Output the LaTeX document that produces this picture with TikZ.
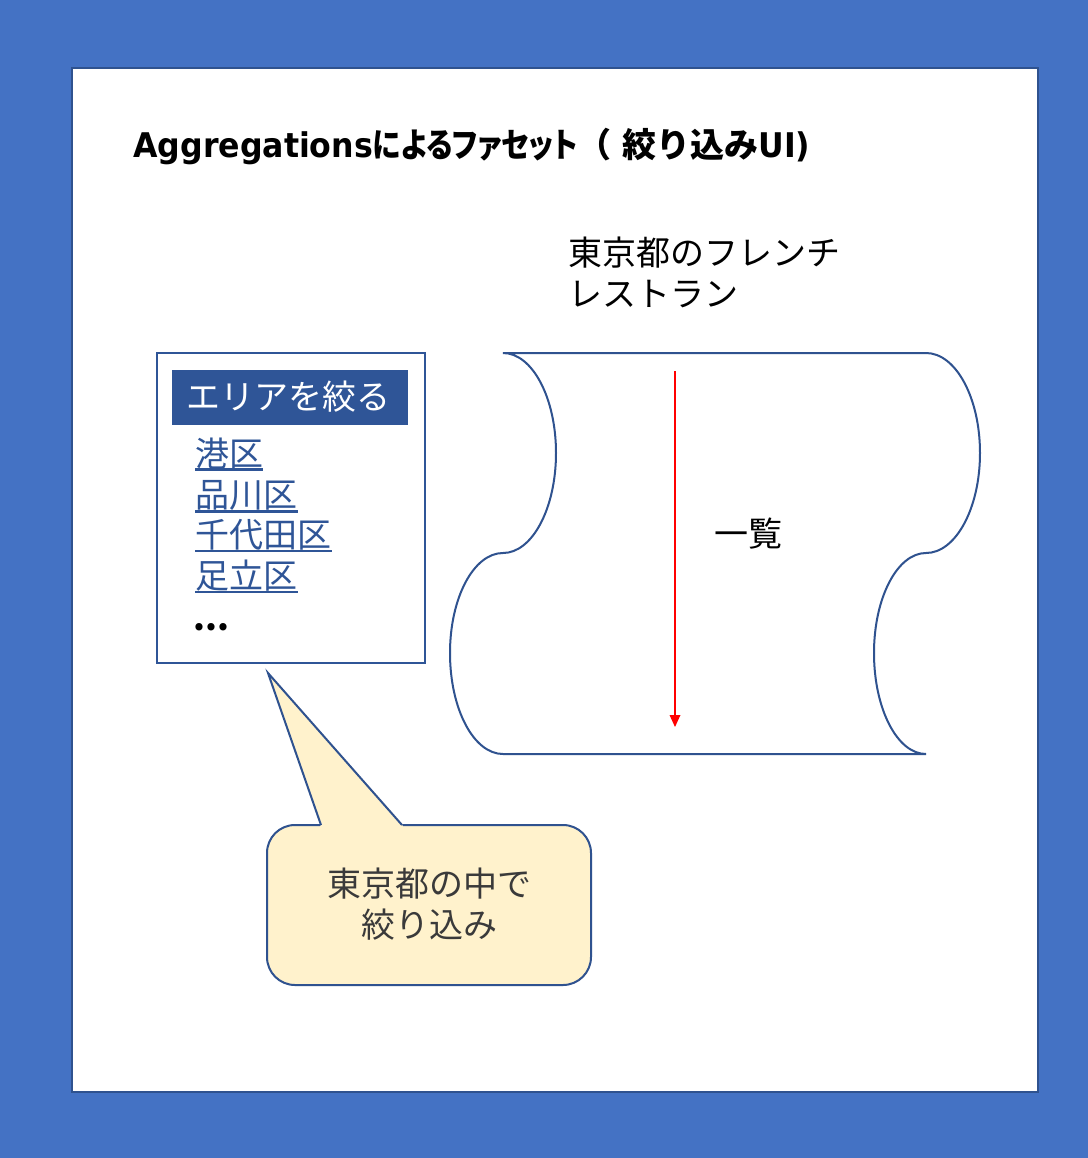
\documentclass[tikz,border=0pt]{standalone}
\usepackage{fontspec}
\setmainfont{Noto Sans CJK JP}
\newfontfamily\jp{Noto Sans CJK JP}
\newfontfamily\jptitle[RawFeature=+palt,FakeStretch=0.85]{Noto Sans CJK JP}
\newfontfamily\titlelatin[FakeStretch=0.93]{DejaVu Sans}
\usetikzlibrary{arrows.meta}
\definecolor{bgblue}{HTML}{4472C4}
\definecolor{edgeblue}{HTML}{2F528F}
\definecolor{headblue}{HTML}{2F5597}
\definecolor{callfill}{HTML}{FFF2CC}
\definecolor{calltext}{HTML}{3A3A3A}
\tikzset{
  jtext/.style={font=\jp\fontsize{25.5pt}{30.75pt}\selectfont, inner sep=0pt},
  linktext/.style={jtext, text=headblue, anchor=base west},
  uline/.style={draw=headblue, line width=2pt},
  edge/.style={draw=edgeblue, line width=1.5pt},
}
\begin{document}
\begin{tikzpicture}[x=0.75pt,y=-0.75pt]
\useasboundingbox (0,0) rectangle (1088,1158);
\fill[bgblue] (0,0) rectangle (1088,1158);
\node (page) [edge, fill=white, minimum width=724.5pt, minimum height=768pt, inner sep=0pt] at (555,580) {};
% title
\node (title) [anchor=base west, inner sep=0pt, font=\fontsize{25.5pt}{30pt}\selectfont\bfseries] at (133,157)
  {{\titlelatin Aggregations}{\jptitle によるファセット}{\jp （}\kern8pt{\jp 絞り込み}{\titlelatin UI)}};
% list heading
\node (head1) [jtext, anchor=base west] at (568,265) {東京都のフレンチ};
\node (head2) [jtext, anchor=base west] at (568,306) {レストラン};
% facet box
\node (facet) [draw=headblue, line width=1.5pt, fill=white, minimum width=201pt, minimum height=232.5pt, inner sep=0pt] at (291,508) {};
\node (hdr) [fill=headblue, minimum width=177pt, minimum height=41.25pt, inner sep=0pt] at (290,397.5) {};
\node (hdrtext) [jtext, text=white, anchor=base] at (288,409) {エリアを絞る};
\node (l1) [linktext] at (195,466) {港区};
\node (l2) [linktext] at (195,507) {品川区};
\node (l3) [linktext] at (195,547) {千代田区};
\node (l4) [linktext] at (195,588) {足立区};
\draw[uline] (l1.base west) ++(0,3.5) -- ++(68,0);
\draw[uline] (l2.base west) ++(0,4.5) -- ++(103,0);
\draw[uline] (l3.base west) ++(0,4) -- ++(137,0);
\draw[uline] (l4.base west) ++(0,4) -- ++(103,0);
\node (dots) [jtext, anchor=base west, font=\jp\bfseries\fontsize{25.5pt}{30pt}\selectfont] at (193,630) {...};
% scroll shape
\draw[edge, fill=white]
  (503,353) .. controls (532.3,353) and (556,397.8) .. (556,453)
  .. controls (556,508.2) and (532.3,553) .. (503,553)
  .. controls (473.7,553) and (450,597.8) .. (450,653)
  .. controls (450,709) and (473.7,754) .. (503,754)
  -- (926,754)
  .. controls (897.3,754) and (874,708.8) .. (874,653)
  .. controls (874,597.8) and (897.3,553) .. (926,553)
  .. controls (955.8,553) and (980,508.2) .. (980,453)
  .. controls (980,397.8) and (955.8,353) .. (926,353)
  -- cycle;
\coordinate (arrtop) at (675,371);
\coordinate (arrbot) at (675,727);
\draw[red, line width=0.9pt, -{Triangle[length=9pt,width=8pt]}] (arrtop) -- (arrbot);
\node (ichiran) [jtext, anchor=base west] at (714,546) {一覧};
% callout
\node (call) [edge, fill=callfill, rounded corners=21pt, minimum width=243pt, minimum height=120pt, inner sep=0pt] at (429,905) {};
\coordinate (tip) at (268,673);
\fill[callfill] (321,823.5) -- (tip) -- (402,823.5) -- (403,827) -- (320,827) -- cycle;
\draw[edge, line join=miter] (321,825) -- (tip) -- (402,825);
\node (calltxt) [jtext, text=calltext, align=center] at (429,904) {東京都の中で\\絞り込み};
\end{tikzpicture}
\end{document}
